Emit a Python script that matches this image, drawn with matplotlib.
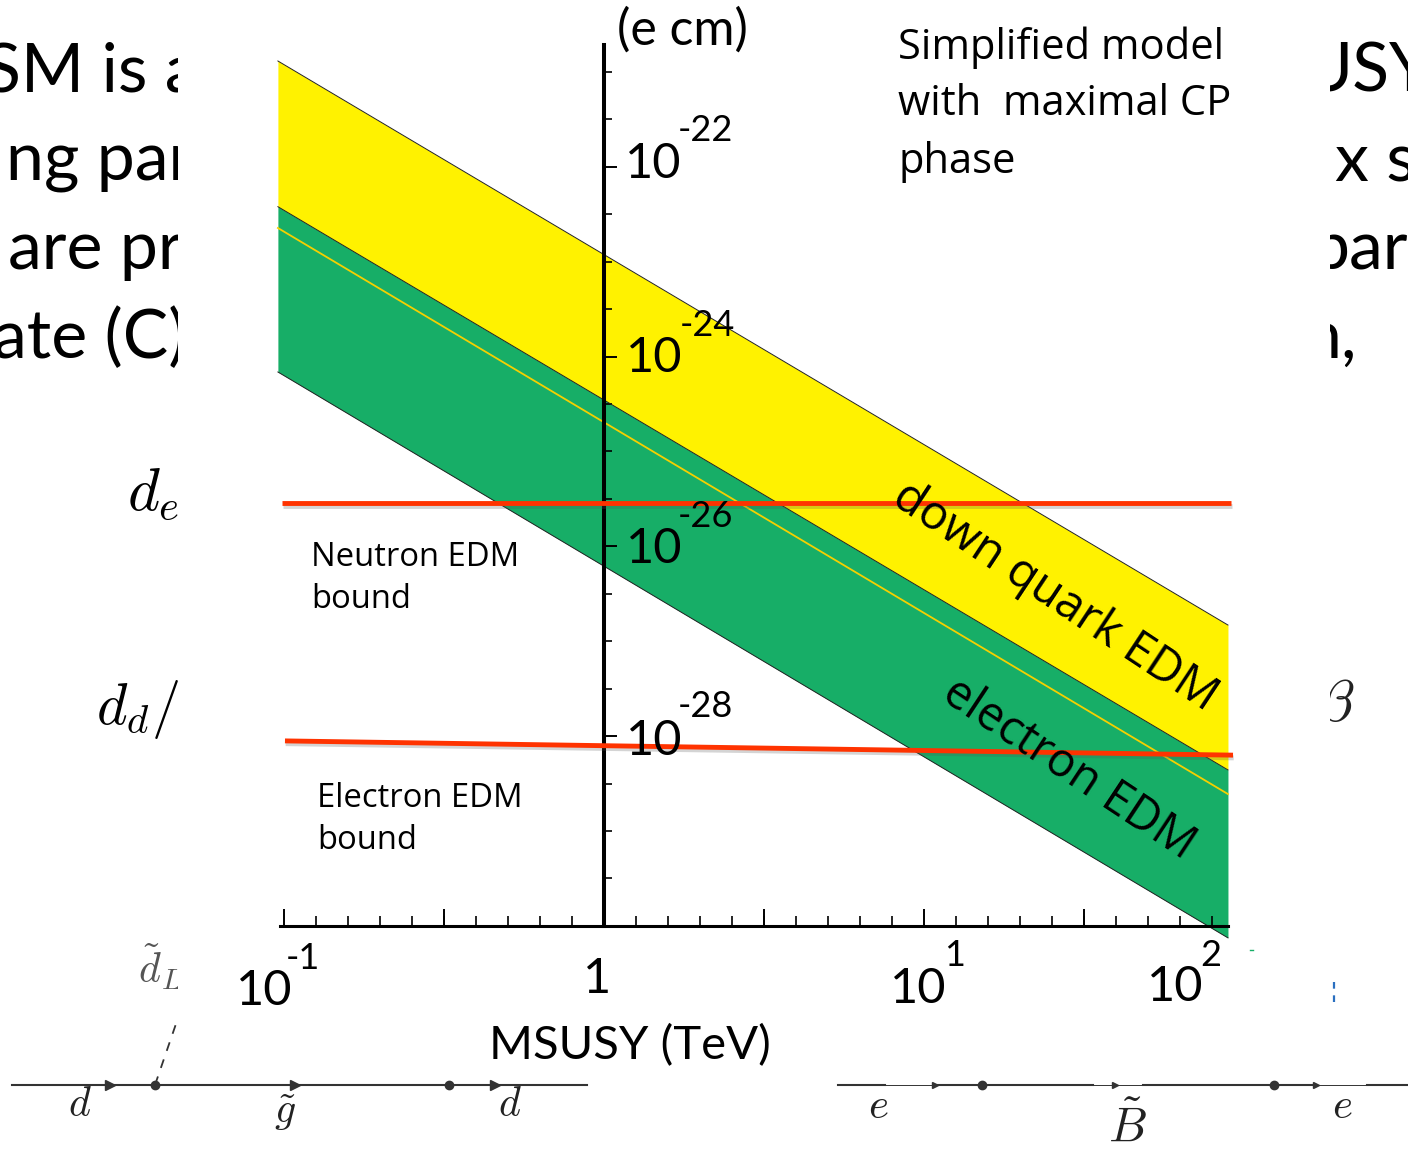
#!/usr/bin/env python3
import numpy as np
import matplotlib
matplotlib.use("Agg")
import matplotlib.pyplot as plt
import matplotlib.patheffects as pe
from matplotlib.patches import Rectangle

W, H = 1408, 1151

# band edges (MSUSY in TeV, EDM in e cm)
msusy_edges = [0.0957, 89.1]
yellow_top = [1.30e-21, 1.48e-27]
yellow_bottom = [3.79e-23, 4.40e-29]
green_mid = [2.26e-23, 2.45e-29]
green_bottom = [6.87e-25, 7.48e-31]

neutron_x = [0.0985, 91.0]
neutron_bound = [2.85e-26, 2.85e-26]
electron_x = [0.1007, 92.4]
electron_bound = [8.9e-29, 6.3e-29]

x_major = [0.1, 0.316, 1, 3.16, 10, 31.6]
x_minor_exp = [k / 10 - 1 for k in range(30)]
y_major_exp = [-22, -24, -26, -28]
y_minor_exp = [-21 - k / 2 for k in range(18)]

# (text, exponent, base x, base y, exponent x, exponent y)
x_labels = [("10", "-1", 264, 991, 303, 958),
            ("10", "1", 918, 989, 955, 955),
            ("10", "2", 1175, 987, 1211, 955)]
y_labels = [("10", "-22", 653, 164, 705, 130),
            ("10", "-24", 654, 358, 707, 325),
            ("10", "-26", 654, 549, 705, 516),
            ("10", "-28", 654, 741, 705, 706)]

slide_left = [("SM is a", -16, 72), ("ng par", 6, 162), ("are pr", 8, 250), ("ate (C)", -7, 339)]
slide_right = [("USY", 1302, 72), ("x s", 1335, 162), ("par", 1311, 250), ("n,", 1303, 339)]

FONT = "Lato"
plt.rcParams["font.family"] = [FONT, "DejaVu Sans"]
plt.rcParams["mathtext.fontset"] = "cm"


def px_text(px, x, y, s, size, **kw):
    kw.setdefault("ha", "center")
    kw.setdefault("va", "center")
    return px.text(x, y, s, fontsize=size, color=kw.pop("color", "black"), **kw)


def draw_background(px):
    for s, x, y in slide_left + slide_right:
        px_text(px, x, y, s, 49, ha="left", zorder=1)
    px_text(px, 127, 493, r"$d_e$", 44, ha="left", zorder=1)
    px_text(px, 96, 709, r"$d_d/$", 42, ha="left", zorder=1)
    px_text(px, 1336, 705, r"$\beta$", 42, zorder=1, color="#222222")
    px_text(px, 160, 967, r"$\tilde{d}_L$", 30, zorder=1, color="#555555")
    # white box of the pasted plot hides the slide behind it
    px.add_patch(Rectangle((178, -5), 1152, 1015, fc="white", ec="none", zorder=2))
    px.plot([1333.5, 1333.5], [982, 1006], color="#2a6fc0", lw=1.6, ls=(0, (3, 3)), zorder=3)
    px.plot([1250, 1253], [950, 950], color="#17AE67", lw=1, zorder=3)


def draw_feynman(px):
    c = "#333333"
    px.plot([12, 587], [1085, 1085], color=c, lw=1.5, zorder=3)
    px.plot([155, 178], [1085, 1018], color=c, lw=1.3, ls=(0, (5, 5)), zorder=3)
    px.plot([155, 449], [1085, 1085], "o", color=c, ms=6, zorder=4)
    px.plot([110, 295, 495], [1085] * 3, ">", color=c, ms=7, zorder=4)
    for a, b, lw in [(838, 885, 1.5), (885, 935, 0.7), (935, 1093, 1.5), (1093, 1143, 0.7),
                     (1143, 1316, 1.5), (1316, 1367, 0.7), (1367, 1408, 1.5)]:
        px.plot([a, b], [1085, 1085], color=c, lw=lw, zorder=3)
    px.plot([982, 1274], [1085, 1085], "o", color=c, ms=6, zorder=4)
    px.plot([935, 1115, 1316], [1085] * 3, ">", color=c, ms=4, zorder=4)
    for s, x, y, size in [(r"$d$", 80, 1104, 30), (r"$d$", 510, 1104, 30), (r"$\tilde{g}$", 285, 1113, 30),
                          (r"$e$", 878, 1106, 31), (r"$e$", 1342, 1106, 31), (r"$\tilde{B}$", 1127, 1127, 35)]:
        px_text(px, x, y, s, size, zorder=4, color="#222222")


def draw_chart(ax):
    ax.set_xscale("log")
    ax.set_yscale("log")
    ax.set_xlim(10 ** (-604 / 320), 10 ** (804 / 320))
    ax.set_ylim(10 ** (-22 - 984.3 / 94.9), 10 ** (-22 + 166.7 / 94.9))
    ax.patch.set_alpha(0)

    ax.fill_between(msusy_edges, yellow_bottom, yellow_top, color="#FFF200", lw=0, zorder=1)
    ax.fill_between(msusy_edges, green_bottom, yellow_bottom, color="#17AE67", lw=0, zorder=1)
    ax.plot(msusy_edges, green_mid, color="#F5D000", lw=1.3, zorder=1.5)
    for edge in (yellow_top, yellow_bottom, green_bottom):
        ax.plot(msusy_edges, edge, color="#222222", lw=0.7, zorder=1.6)

    shadow = [pe.SimpleLineShadow(offset=(0.5, -2), alpha=0.25, shadow_color="#555555"), pe.Normal()]
    ax.plot(neutron_x, neutron_bound, color="#FF3300", lw=3.5, solid_capstyle="butt",
            path_effects=shadow, zorder=4)
    ax.plot(electron_x, electron_bound, color="#FF3300", lw=3.5, solid_capstyle="butt",
            path_effects=shadow, zorder=4)

    for side in ("top", "right"):
        ax.spines[side].set_visible(False)
    ax.spines["left"].set_position(("data", 1))
    ax.spines["bottom"].set_position(("data", 1e-30))
    ax.spines["left"].set_bounds(1e-30, 1.91e-21)
    ax.spines["bottom"].set_bounds(0.0972, 89.1)
    ax.spines["left"].set_linewidth(2.9)
    ax.spines["bottom"].set_linewidth(2.2)

    ax.set_xticks(x_major)
    ax.set_xticks([10 ** e for e in x_minor_exp], minor=True)
    ax.set_yticks([10.0 ** e for e in y_major_exp])
    ax.set_yticks([10.0 ** e for e in y_minor_exp], minor=True)
    ax.tick_params(labelbottom=False, labelleft=False, which="both", direction="in", color="black")
    ax.tick_params(axis="x", which="major", length=12, width=1.4)
    ax.tick_params(axis="x", which="minor", length=7, width=1.2)
    ax.tick_params(axis="y", which="major", length=9, width=1.4)
    ax.tick_params(axis="y", which="minor", length=6, width=1.2)


def draw_labels(px):
    for base, exp, bx, by, ex, ey in x_labels + y_labels:
        px_text(px, bx, by, base, 35, zorder=6)
        px_text(px, ex, ey, exp, 26, zorder=6)
    px_text(px, 597, 979, "1", 35, zorder=6)
    px_text(px, 682, 30, "(e cm)", 36, zorder=6)
    px_text(px, 630, 1046, "MSUSY (TeV)", 34, zorder=6)

    for s, y in [("Simplified model", 48), ("with  maximal CP", 104), ("phase", 162)]:
        px_text(px, 898, y, s, 30, ha="left", zorder=6, family="Open Sans")
    for s, x, y in [("Neutron EDM", 311, 557), ("bound", 311, 599),
                    ("Electron EDM", 317, 798), ("bound", 317, 840)]:
        px_text(px, x, y, s, 23.6, ha="left", zorder=6, family="Open Sans")
    px_text(px, 890, 503, "down quark EDM", 34, ha="left", va="baseline", rotation=-33.5,
            rotation_mode="anchor", zorder=6, family="Open Sans")
    px_text(px, 940, 699, "electron EDM", 33.5, ha="left", va="baseline", rotation=-33.5,
            rotation_mode="anchor", zorder=6, family="Open Sans")


def main():
    fig = plt.figure(figsize=(W / 100, H / 100), dpi=100)
    px = fig.add_axes([0, 0, 1, 1], zorder=0)
    px.set_xlim(0, W)
    px.set_ylim(H, 0)
    px.axis("off")
    ax = fig.add_axes([0, 0, 1, 1], zorder=1)
    top = fig.add_axes([0, 0, 1, 1], zorder=2)
    top.set_xlim(0, W)
    top.set_ylim(H, 0)
    top.axis("off")

    draw_background(px)
    draw_feynman(px)
    draw_chart(ax)
    draw_labels(top)
    fig.savefig("out.png", dpi=100)
    plt.close(fig)


if __name__ == "__main__":
    main()
